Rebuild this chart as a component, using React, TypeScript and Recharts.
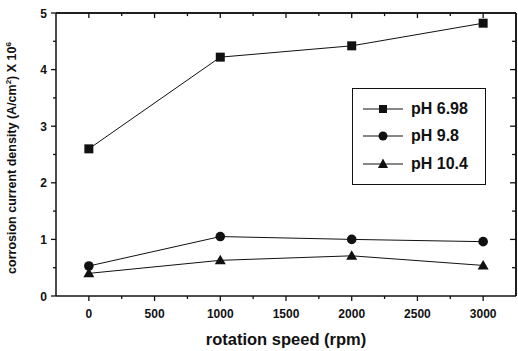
import { LineChart, Line, XAxis, YAxis, ReferenceLine, CartesianGrid } from "recharts";

const speeds = [0, 1000, 2000, 3000];
const ph698 = [2.6, 4.22, 4.42, 4.82];
const ph98 = [0.53, 1.05, 1.0, 0.96];
const ph104 = [0.4, 0.63, 0.71, 0.54];

const xTicks = [-250, 0, 250, 500, 750, 1000, 1250, 1500, 1750, 2000, 2250, 2500, 2750, 3000, 3250];
const yTicks = [0, 0.5, 1, 1.5, 2, 2.5, 3, 3.5, 4, 4.5, 5];

const X_MIN = -250;
const X_MAX = 3250;
const Y_MAX = 5;

const data = speeds.map((s, i) => ({
  speed: s,
  a: ph698[i],
  b: ph98[i],
  c: ph104[i],
}));

const FONT = "'Liberation Sans', Arial, sans-serif";
const INK = "#111";

function Square(props: any) {
  const { cx, cy } = props;
  if (cx == null || cy == null) return <g />;
  return <rect x={cx - 4.5} y={cy - 4.5} width={9} height={9} fill={INK} />;
}

function Dot(props: any) {
  const { cx, cy } = props;
  if (cx == null || cy == null) return <g />;
  return <circle cx={cx} cy={cy} r={4.8} fill={INK} />;
}

function Tri(props: any) {
  const { cx, cy } = props;
  if (cx == null || cy == null) return <g />;
  return <polygon points={`${cx},${cy - 5.5} ${cx + 5.5},${cy + 4} ${cx - 5.5},${cy + 4}`} fill={INK} />;
}

const isMajorX = (v: number) => v % 500 === 0;
const isMajorY = (v: number) => v % 1 === 0;

function BottomTick(props: any) {
  const { x, y, payload } = props;
  const v = payload.value;
  const major = isMajorX(v);
  const show = major && v >= 0 && v <= 3000;
  if (v < 0 || v > 3100) return <g />;
  return (
    <g>
      <line x1={x} x2={x} y1={y} y2={y + (major ? 5 : 3)} stroke={INK} strokeWidth={1.3} />
      {show && (
        <text x={x} y={y + 22} textAnchor="middle" fontSize={12} fontWeight="bold" fontFamily={FONT} fill={INK}>
          {v}
        </text>
      )}
    </g>
  );
}

function LeftTick(props: any) {
  const { x, y, payload } = props;
  const v = payload.value;
  const major = isMajorY(v);
  return (
    <g>
      <line x1={x - (major ? 5 : 3)} x2={x} y1={y} y2={y} stroke={INK} strokeWidth={1.3} />
      {major && (
        <text x={x - 9} y={y + 4.5} textAnchor="end" fontSize={12} fontWeight="bold" fontFamily={FONT} fill={INK}>
          {v}
        </text>
      )}
    </g>
  );
}

const legendItems = [
  { name: "pH 6.98", shape: "square" },
  { name: "pH 9.8", shape: "circle" },
  { name: "pH 10.4", shape: "triangle" },
];

function LegendBox() {
  return (
    <div
      style={{
        position: "absolute",
        left: 352,
        top: 88,
        border: "1.3px solid #111",
        width: 134,
        height: 97,
        boxSizing: "border-box",
        padding: "6px 0 0 8px",
        background: "#fff",
      }}
    >
      {legendItems.map((it) => (
        <div key={it.name} style={{ display: "flex", alignItems: "center", height: 27.5 }}>
          <svg width={44} height={14}>
            <line x1={2} x2={42} y1={7} y2={7} stroke={INK} strokeWidth={1} />
            {it.shape === "square" && <rect x={18} y={3} width={8} height={8} fill={INK} />}
            {it.shape === "circle" && <circle cx={22} cy={7} r={4.5} fill={INK} />}
            {it.shape === "triangle" && <polygon points="22,1.5 27,11 17,11" fill={INK} />}
          </svg>
          <span style={{ fontFamily: FONT, fontSize: 16, fontWeight: "bold", color: INK, marginLeft: 6 }}>
            {it.name}
          </span>
        </div>
      ))}
    </div>
  );
}

function YTitle() {
  return (
    <text
      transform="translate(16,158) rotate(-90)"
      textAnchor="middle"
      fontSize={12.5}
      fontWeight="bold"
      fontFamily={FONT}
      fill={INK}
    >
      corrosion current density (A/cm
      <tspan dy={-5} fontSize={8}>2</tspan>
      <tspan dy={5}>) X 10</tspan>
      <tspan dy={-5} fontSize={8}>6</tspan>
    </text>
  );
}

// inward ticks on the top and right frame, lengths in data units
const topTicks = xTicks.filter((v) => v >= 0 && v <= 3000);
const rightTicks = yTicks.filter((v) => v > 0 && v < Y_MAX);

export default function App() {
  return (
    <div style={{ position: "absolute", left: 0, top: 0, width: 518, height: 351, background: "#fff" }}>
      <LineChart width={518} height={351} data={data} margin={{ top: 13, right: 2, left: 0, bottom: 0 }}>
        <CartesianGrid
          xAxisId="bottom"
          yAxisId="left"
          stroke={INK}
          strokeWidth={1.5}
          horizontalValues={[Y_MAX]}
          verticalValues={[X_MAX]}
        />
        <XAxis
          xAxisId="bottom"
          dataKey="speed"
          type="number"
          domain={[X_MIN, X_MAX]}
          ticks={xTicks}
          interval={0}
          height={55}
          tickSize={0}
          tickMargin={0}
          tick={<BottomTick />}
          axisLine={{ stroke: INK, strokeWidth: 1.5 }}
          label={{
            value: "rotation speed (rpm)",
            position: "insideBottom",
            offset: 6,
            fontSize: 16.5,
            fontWeight: "bold",
            fontFamily: FONT,
            fill: INK,
          }}
        />
        <YAxis
          yAxisId="left"
          type="number"
          domain={[0, Y_MAX]}
          ticks={yTicks}
          interval={0}
          width={56}
          tickSize={0}
          tickMargin={0}
          tick={<LeftTick />}
          axisLine={{ stroke: INK, strokeWidth: 1.5 }}
          label={{ content: () => <YTitle /> }}
        />
        <ReferenceLine xAxisId="bottom" yAxisId="left" y={Y_MAX} stroke={INK} strokeWidth={1.5} ifOverflow="visible" />
        <ReferenceLine xAxisId="bottom" yAxisId="left" x={X_MAX} stroke={INK} strokeWidth={1.5} ifOverflow="visible" />
        {topTicks.map((v) => (
          <ReferenceLine
            key={`t${v}`}
            xAxisId="bottom"
            yAxisId="left"
            ifOverflow="visible"
            segment={[
              { x: v, y: Y_MAX },
              { x: v, y: Y_MAX - (isMajorX(v) ? 0.09 : 0.055) },
            ]}
            stroke={INK}
            strokeWidth={1.3}
          />
        ))}
        {rightTicks.map((v) => (
          <ReferenceLine
            key={`r${v}`}
            xAxisId="bottom"
            yAxisId="left"
            ifOverflow="visible"
            segment={[
              { x: X_MAX, y: v },
              { x: X_MAX - (isMajorY(v) ? 45 : 30), y: v },
            ]}
            stroke={INK}
            strokeWidth={1.3}
          />
        ))}
        <Line
          xAxisId="bottom"
          yAxisId="left"
          dataKey="a"
          stroke={INK}
          strokeWidth={1}
          dot={<Square />}
          isAnimationActive={false}
        />
        <Line
          xAxisId="bottom"
          yAxisId="left"
          dataKey="b"
          stroke={INK}
          strokeWidth={1}
          dot={<Dot />}
          isAnimationActive={false}
        />
        <Line
          xAxisId="bottom"
          yAxisId="left"
          dataKey="c"
          stroke={INK}
          strokeWidth={1}
          dot={<Tri />}
          isAnimationActive={false}
        />
      </LineChart>
      <LegendBox />
    </div>
  );
}
